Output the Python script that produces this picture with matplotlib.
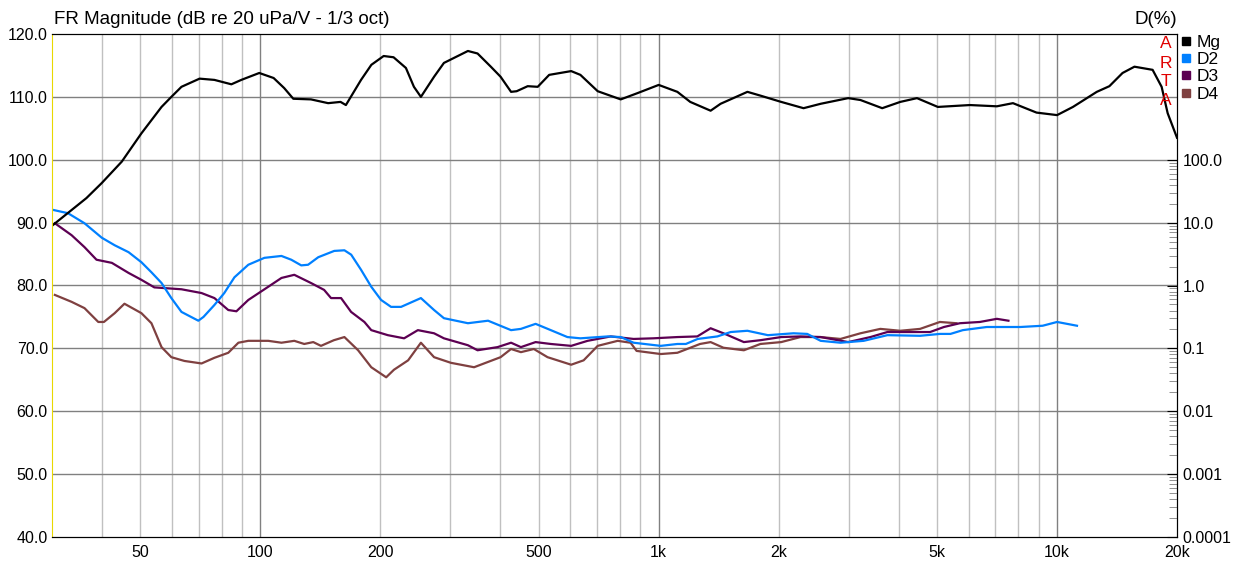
import matplotlib
matplotlib.use("Agg")
import matplotlib.pyplot as plt
from matplotlib.lines import Line2D
import numpy as np

plt.rcParams['font.family'] = ['Liberation Sans', 'DejaVu Sans']

# Mg: frequency response (dB)
mg_f = [30, 36.6, 40, 44.9, 50.3, 56.5, 59.8, 63.4, 70.4, 76.7, 84.6, 89.6, 99.4, 108, 114.8,
        121, 134, 148, 159, 164, 179, 190, 204, 216, 232, 243, 253, 273, 289, 332, 351,
        379, 401, 426, 440, 469, 497, 531, 603, 636, 703, 803, 885, 1000, 1114, 1200,
        1350, 1430, 1670, 1800, 2030, 2310, 2550, 2990, 3210, 3640, 4040, 4450, 5020,
        6040, 7060, 7750, 8880, 10000, 10960, 12580, 13530, 14600, 15640, 17370, 18300,
        18950, 20000]
mg_db = [89.5, 93.9, 96.3, 99.7, 104.2, 108.4, 110.0, 111.6, 112.9, 112.7, 112.0, 112.7,
         113.8, 113.0, 111.4, 109.7, 109.6, 109.0, 109.2, 108.7, 112.7, 115.1, 116.5,
         116.3, 114.6, 111.6, 110.0, 113.2, 115.4, 117.3, 116.9, 114.8, 113.2, 110.8,
         110.9, 111.7, 111.6, 113.5, 114.1, 113.5, 110.9, 109.6, 110.6, 111.9, 110.8,
         109.2, 107.8, 108.9, 110.8, 110.2, 109.2, 108.2, 108.9, 109.8, 109.5, 108.2,
         109.2, 109.8, 108.4, 108.7, 108.5, 109.0, 107.5, 107.1, 108.4, 110.8, 111.7,
         113.8, 114.8, 114.3, 111.6, 107.4, 103.5]

# distortion curves, values read on the left dB scale (80 dB = 1 %)
d2_f = [30.3, 32.9, 36.2, 40, 43.1, 46.7, 50.3, 53.3, 56.5, 59.8, 63.4, 69.9, 72, 76.7,
        81.2, 86.1, 93.3, 102.4, 113, 119.6, 126.7, 131.8, 139.8, 153.3, 162.6, 169.1,
        179, 189.9, 201, 212.9, 225.6, 253, 273, 289, 332, 373, 426, 451, 491, 536, 590,
        636, 745, 803, 865, 1012, 1114, 1170, 1253, 1404, 1516, 1670, 1880, 2180, 2360,
        2550, 2860, 3270, 3750, 4530, 5080, 5400, 5800, 6660, 8090, 9200, 10000, 11220]
d2_db = [92.0, 91.5, 89.9, 87.6, 86.4, 85.3, 83.7, 82.1, 80.4, 78.0, 75.8, 74.4, 75.0,
         76.9, 78.8, 81.3, 83.3, 84.4, 84.7, 84.1, 83.2, 83.3, 84.5, 85.5, 85.6, 84.9,
         82.5, 79.8, 77.7, 76.6, 76.6, 78.0, 76.1, 74.8, 74.0, 74.4, 72.9, 73.1, 73.9,
         72.9, 71.8, 71.6, 71.9, 71.8, 70.9, 70.4, 70.7, 70.7, 71.5, 71.9, 72.6, 72.8,
         72.1, 72.4, 72.3, 71.2, 70.9, 71.2, 72.1, 72.0, 72.3, 72.3, 72.9, 73.4, 73.4,
         73.6, 74.2, 73.6]

d3_f = [30.5, 33.6, 36.2, 38.8, 42.4, 46.7, 50.3, 54.2, 63.4, 71.2, 76.7, 83.1, 87.1,
        93.3, 104.7, 113, 121.7, 134, 144.6, 150.5, 159.5, 169, 182.5, 189.9, 209, 229.6,
        248.6, 273, 289, 332, 351, 394, 426, 451, 491, 536, 603, 663, 758, 865, 970, 1114,
        1250, 1350, 1454, 1636, 1800, 2030, 2270, 2550, 2990, 3400, 3750, 4800, 5200,
        5700, 6400, 7060, 7550]
d3_db = [89.9, 88.0, 86.1, 84.1, 83.6, 82.0, 80.9, 79.7, 79.4, 78.8, 78.0, 76.1, 75.9,
         77.7, 79.8, 81.2, 81.7, 80.4, 79.3, 78.0, 78.0, 75.8, 74.2, 72.9, 72.1, 71.6,
         72.9, 72.4, 71.6, 70.5, 69.7, 70.2, 70.9, 70.2, 71.0, 70.7, 70.4, 71.2, 71.9,
         71.5, 71.6, 71.8, 71.9, 73.2, 72.4, 71.0, 71.3, 71.8, 71.9, 71.8, 71.0, 71.8,
         72.6, 72.6, 73.4, 74.0, 74.2, 74.7, 74.4]

d4_f = [30.5, 33.6, 36.2, 39.2, 40.5, 43.1, 45.6, 50.3, 53.3, 56.5, 59.8, 64.5, 71.2,
        76.7, 83.1, 88.1, 93.3, 104.7, 113, 121.7, 128.9, 135.8, 142, 153, 162.6, 176,
        189.9, 207, 216.5, 235, 253, 273, 301, 344, 401, 426, 451, 486, 526, 603, 648,
        703, 789, 850, 880, 1012, 1114, 1270, 1350, 1454, 1636, 1800, 2030, 2270, 2550,
        2860, 3210, 3600, 4040, 4530, 5080, 5590]
d4_db = [78.5, 77.4, 76.4, 74.2, 74.2, 75.6, 77.1, 75.6, 74.0, 70.2, 68.6, 68.0, 67.6,
         68.5, 69.3, 70.9, 71.2, 71.2, 70.9, 71.2, 70.7, 71.0, 70.4, 71.3, 71.8, 69.7,
         67.0, 65.4, 66.6, 68.1, 70.9, 68.6, 67.7, 67.0, 68.6, 69.9, 69.4, 69.9, 68.6,
         67.4, 68.1, 70.4, 71.2, 70.9, 69.6, 69.1, 69.3, 70.7, 71.0, 70.1, 69.7, 70.7,
         71.0, 71.8, 71.8, 71.5, 72.4, 73.1, 72.8, 73.1, 74.2, 74.0]

names = ['Mg', 'D2', 'D3', 'D4']
colors = ['#000000', '#0080ff', '#5c0052', '#7f4040']

fig = plt.figure(figsize=(12.34, 5.67), dpi=100)
ax = fig.add_axes([52 / 1234, 30 / 567, 1125 / 1234, 503 / 567])
ax.set_xscale('log')
ax.set_xlim(30, 20000)
ax.set_ylim(40, 120)

# grid lines, decade lines darker
for dec in [10, 100, 1000, 10000]:
    for k in range(1, 10):
        f = k * dec
        if 30 < f < 20000:
            ax.axvline(f, color='#808080' if k == 1 else '#c0c0c0', lw=1, zorder=0)
for y in range(50, 120, 10):
    ax.axhline(y, color='#808080', lw=1, zorder=0)

ax.plot(d4_f, d4_db, color=colors[3], lw=1.6)
ax.plot(d3_f, d3_db, color=colors[2], lw=1.6)
ax.plot(d2_f, d2_db, color=colors[1], lw=1.6)
ax.plot(mg_f, mg_db, color=colors[0], lw=1.6)

xt = [50, 100, 200, 500, 1000, 2000, 5000, 10000, 20000]
xl = ['50', '100', '200', '500', '1k', '2k', '5k', '10k', '20k']
ax.set_xticks(xt)
ax.set_xticklabels(xl)
ax.xaxis.set_minor_locator(plt.NullLocator())
ax.set_yticks(range(40, 121, 10))
ax.set_yticklabels(['%.1f' % v for v in range(40, 121, 10)])
ax.tick_params(axis='both', length=0, labelsize=11.5, pad=6)
ax.tick_params(axis='y', pad=3)
ax.spines['left'].set_color('#e8d800')

# right axis: D(%)
ax2 = ax.twinx()
ax2.set_yscale('log')
ax2.set_ylim(1e-4, 1e4)
d_ticks = [1e-4, 1e-3, 1e-2, 1e-1, 1, 10, 100]
d_labels = ['0.0001', '0.001', '0.01', '0.1', '1.0', '10.0', '100.0']
ax2.set_yticks(d_ticks)
ax2.set_yticklabels(d_labels)
minors = [k * 10.0 ** e for e in range(-4, 2) for k in range(2, 10)]
ax2.yaxis.set_minor_locator(plt.FixedLocator(minors))
ax2.yaxis.set_minor_formatter(plt.NullFormatter())
ax2.tick_params(axis='y', which='major', direction='in', length=7, labelsize=11.5, pad=4)
ax2.tick_params(axis='y', which='minor', direction='in', length=6, color='#808080')
ax2.spines['left'].set_visible(False)

fig.text(54 / 1234, 1 - 20 / 567, 'FR Magnitude (dB re 20 uPa/V - 1/3 oct)',
         fontsize=13.5, va='center', ha='left')
fig.text(1177 / 1234, 1 - 20 / 567, 'D(%)', fontsize=13.5, va='center', ha='right')

# ARTA mark and legend
for i, ch in enumerate('ARTA'):
    fig.text(1166 / 1234, 1 - (44 + 19 * i) / 567, ch, color='#e00000',
             fontsize=12.5, ha='center', va='center')
handles = [Line2D([], [], ls='none', marker='s', markersize=6, color=c) for c in colors]
fig.legend(handles, names, loc='upper left', bbox_to_anchor=(1179 / 1234, 1 - 33 / 567),
           frameon=False, fontsize=12.5, handlelength=0.6, handletextpad=0.3,
           labelspacing=0.12, borderpad=0.1, borderaxespad=0)

fig.savefig('out.png', dpi=100)
